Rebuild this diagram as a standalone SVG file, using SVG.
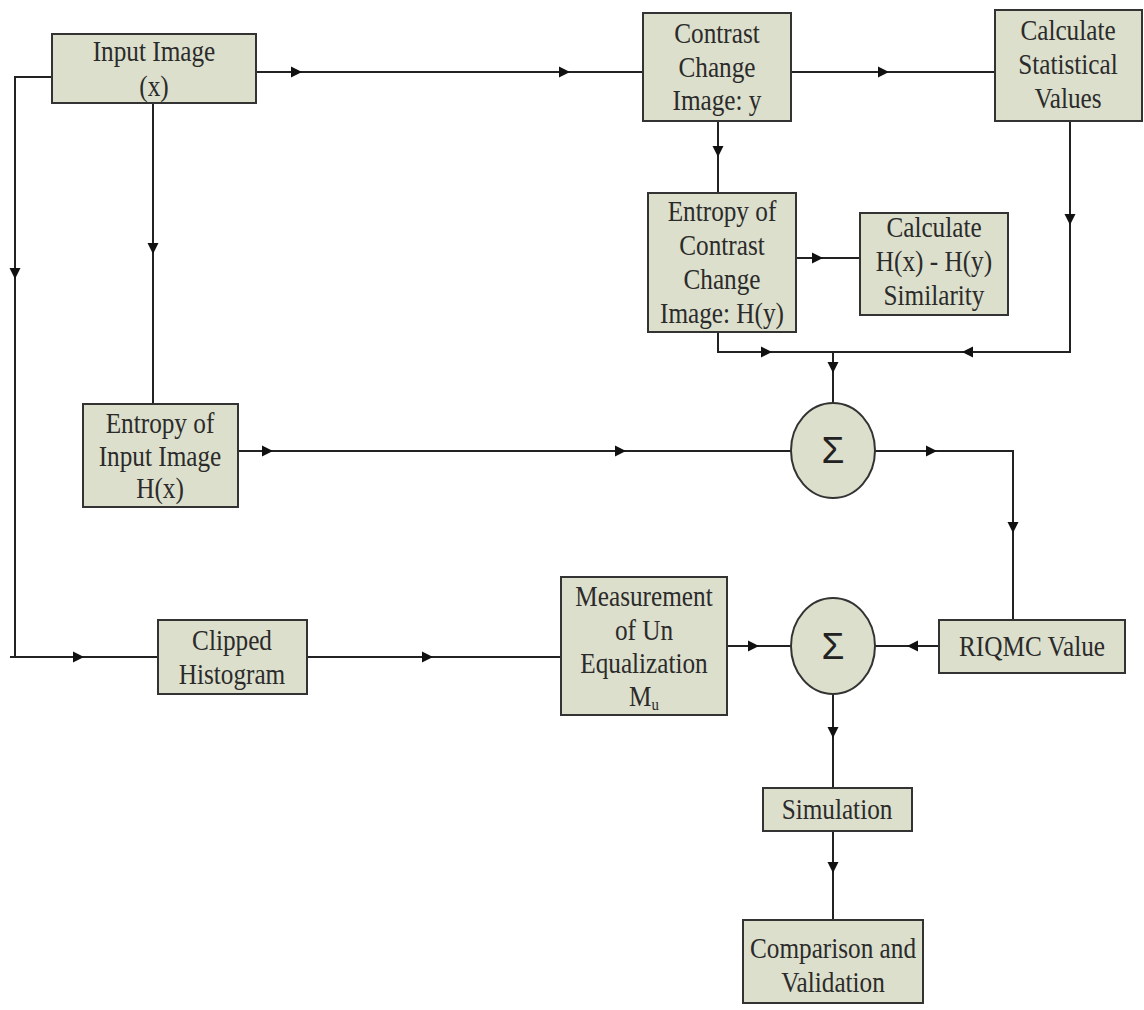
<svg xmlns="http://www.w3.org/2000/svg" xmlns:xlink="http://www.w3.org/1999/xlink" width="1144" height="1010" viewBox="0 0 1144 1010">
<style>
.box{fill:#dcdfcb;stroke:#333;stroke-width:2}
.t{font-family:"Liberation Serif","Times New Roman",serif;font-size:29px;fill:#2b2b2b;text-anchor:middle}
.s{font-family:"Liberation Sans",Arial,sans-serif;font-size:37px;fill:#222;text-anchor:middle}
.ln{fill:none;stroke:#222;stroke-width:2}
.ah{fill:#111}
</style>
<defs>
<path id="ah" d="M0,0 L-11,-5.5 L-11,5.5 Z"/>
</defs>
<rect width="1144" height="1010" fill="#fff"/>
<g id="connectors">
<path class="ln" d="M52,77 H15 V657 H158 M10,657 H15"/>
<path class="ln" d="M153,103 V404"/>
<path class="ln" d="M256,72 H643"/>
<path class="ln" d="M791,72 H995"/>
<path class="ln" d="M718,121 V193"/>
<path class="ln" d="M796,258 H860"/>
<path class="ln" d="M718,332 V352 H1070 V121"/>
<path class="ln" d="M833,352 V403"/>
<path class="ln" d="M238,451 H791"/>
<path class="ln" d="M875,451 H1013 V620"/>
<path class="ln" d="M307,657 H561"/>
<path class="ln" d="M727,646 H791"/>
<path class="ln" d="M939,646 H875"/>
<path class="ln" d="M833,694 V788"/>
<path class="ln" d="M833,831 V920"/>
<g class="ah">
<use xlink:href="#ah" transform="translate(15,279) rotate(90)"/>
<use xlink:href="#ah" transform="translate(84,657)"/>
<use xlink:href="#ah" transform="translate(153,254) rotate(90)"/>
<use xlink:href="#ah" transform="translate(302,72)"/>
<use xlink:href="#ah" transform="translate(570,72)"/>
<use xlink:href="#ah" transform="translate(889,72)"/>
<use xlink:href="#ah" transform="translate(718,157) rotate(90)"/>
<use xlink:href="#ah" transform="translate(823,258)"/>
<use xlink:href="#ah" transform="translate(772,352)"/>
<use xlink:href="#ah" transform="translate(962,352) rotate(180)"/>
<use xlink:href="#ah" transform="translate(1070,225) rotate(90)"/>
<use xlink:href="#ah" transform="translate(833,373) rotate(90)"/>
<use xlink:href="#ah" transform="translate(273,451)"/>
<use xlink:href="#ah" transform="translate(626,451)"/>
<use xlink:href="#ah" transform="translate(937,451)"/>
<use xlink:href="#ah" transform="translate(1013,533) rotate(90)"/>
<use xlink:href="#ah" transform="translate(433,657)"/>
<use xlink:href="#ah" transform="translate(759,646)"/>
<use xlink:href="#ah" transform="translate(907,646) rotate(180)"/>
<use xlink:href="#ah" transform="translate(833,738) rotate(90)"/>
<use xlink:href="#ah" transform="translate(833,873) rotate(90)"/>
</g>
</g>
<g id="input-image">
<rect class="box" x="52" y="34" width="204" height="69"/>
<text class="t" transform="translate(154,61) scale(0.87,1)">Input Image</text>
<text class="t" transform="translate(154,96) scale(0.87,1)">(x)</text>
</g>
<g id="contrast-change">
<rect class="box" x="643" y="13" width="148" height="108"/>
<text class="t" transform="translate(717,43) scale(0.87,1)">Contrast</text>
<text class="t" transform="translate(717,77) scale(0.87,1)">Change</text>
<text class="t" transform="translate(717,110) scale(0.87,1)">Image: y</text>
</g>
<g id="calc-statistical">
<rect class="box" x="995" y="10" width="147" height="111"/>
<text class="t" transform="translate(1068,40) scale(0.87,1)">Calculate</text>
<text class="t" transform="translate(1068,74) scale(0.87,1)">Statistical</text>
<text class="t" transform="translate(1068,108) scale(0.87,1)">Values</text>
</g>
<g id="entropy-contrast">
<rect class="box" x="648" y="193" width="148" height="139"/>
<text class="t" transform="translate(722,221) scale(0.87,1)">Entropy of</text>
<text class="t" transform="translate(722,255) scale(0.87,1)">Contrast</text>
<text class="t" transform="translate(722,289) scale(0.87,1)">Change</text>
<text class="t" transform="translate(722,323) scale(0.87,1)">Image: H(y)</text>
</g>
<g id="calc-similarity">
<rect class="box" x="860" y="213" width="148" height="102"/>
<text class="t" transform="translate(934,237) scale(0.87,1)">Calculate</text>
<text class="t" transform="translate(934,271) scale(0.87,1)">H(x) - H(y)</text>
<text class="t" transform="translate(934,305) scale(0.87,1)">Similarity</text>
</g>
<g id="entropy-input">
<rect class="box" x="83" y="404" width="155" height="103"/>
<text class="t" transform="translate(160,433) scale(0.87,1)">Entropy of</text>
<text class="t" transform="translate(160,466) scale(0.87,1)">Input Image</text>
<text class="t" transform="translate(160,498) scale(0.87,1)">H(x)</text>
</g>
<g id="sum1">
<ellipse class="box" cx="833" cy="450.5" rx="42" ry="47.5"/>
<text class="s" x="833" y="463">Σ</text>
</g>
<g id="clipped-histogram">
<rect class="box" x="158" y="620" width="149" height="74"/>
<text class="t" transform="translate(232,650) scale(0.87,1)">Clipped</text>
<text class="t" transform="translate(232,684) scale(0.87,1)">Histogram</text>
</g>
<g id="measurement">
<rect class="box" x="561" y="577" width="166" height="138"/>
<text class="t" transform="translate(644,606) scale(0.87,1)">Measurement</text>
<text class="t" transform="translate(644,640) scale(0.87,1)">of Un</text>
<text class="t" transform="translate(644,673) scale(0.87,1)">Equalization</text>
<text class="t" transform="translate(644,706) scale(0.87,1)">M<tspan font-size="17" dy="4">u</tspan></text>
</g>
<g id="sum2">
<ellipse class="box" cx="833" cy="646" rx="42" ry="48"/>
<text class="s" x="833" y="659">Σ</text>
</g>
<g id="riqmc">
<rect class="box" x="939" y="620" width="186" height="53"/>
<text class="t" transform="translate(1032,656) scale(0.87,1)">RIQMC Value</text>
</g>
<g id="simulation">
<rect class="box" x="763" y="788" width="149" height="43"/>
<text class="t" transform="translate(837,819) scale(0.87,1)">Simulation</text>
</g>
<g id="comparison">
<rect class="box" x="743" y="920" width="180" height="83"/>
<text class="t" transform="translate(833,958) scale(0.87,1)">Comparison and</text>
<text class="t" transform="translate(833,992) scale(0.87,1)">Validation</text>
</g>
</svg>
